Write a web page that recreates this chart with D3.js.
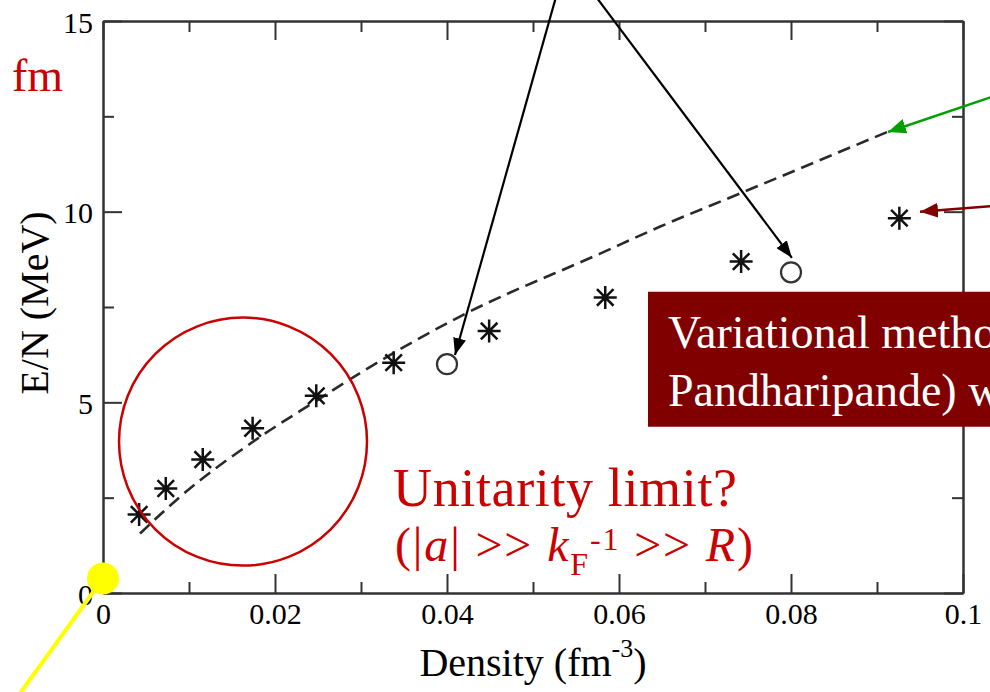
<!DOCTYPE html>
<html>
<head>
<meta charset="utf-8">
<script src="https://cdn.jsdelivr.net/npm/d3@7"></script>
<style>
    html, body { margin: 0; padding: 0; background: #fff; overflow: hidden; }
    svg { display: block; }
    svg text { font-family: "Liberation Serif", "Times New Roman", "DejaVu Serif", serif; }
</style>
</head>
<body>
<div id="chart"></div>
<script>
// data
var starDensity   = [0.0042, 0.0073, 0.0116, 0.0174, 0.0248, 0.0338, 0.0449, 0.0584, 0.0742, 0.0926];
var starEnergy    = [2.06, 2.74, 3.50, 4.32, 5.17, 6.04, 6.87, 7.75, 8.69, 9.83];
var circleDensity = [0.040, 0.080];
var circleEnergy  = [6.00, 8.41];
var curveDensity  = [0.0043, 0.0090, 0.0183, 0.0248, 0.0299, 0.0415, 0.0578, 0.0648, 0.0741, 0.0913];
var curveEnergy   = [1.56, 2.53, 4.10, 5.04, 5.77, 7.25, 8.90, 9.61, 10.48, 12.10];

var xMajor      = [0, 0.02, 0.04, 0.06, 0.08, 0.1];
var xMinor      = [0.01, 0.03, 0.05, 0.07, 0.09];
var xTickLabels = ["0", "0.02", "0.04", "0.06", "0.08", "0.1"];
var yMajor      = [0, 5, 10, 15];
var yMinor      = [2.5, 7.5, 12.5];
var yTickLabels = ["0", "5", "10", "15"];

(function () {
    var W = 990, H = 692;
    var margin = { top: 21, right: 27, bottom: 99, left: 103 };
    var iW = W - margin.left - margin.right;
    var iH = H - margin.top - margin.bottom;
    var SERIF = "'Liberation Serif', 'Times New Roman', serif";

    var root = d3.select("#chart").append("svg")
        .attr("width", W).attr("height", H);

    var defs = root.append("defs");
    function marker(id, color, len, wid) {
        defs.append("marker")
            .attr("id", id)
            .attr("viewBox", "0 0 " + len + " " + wid)
            .attr("refX", len).attr("refY", wid / 2)
            .attr("markerWidth", len).attr("markerHeight", wid)
            .attr("markerUnits", "userSpaceOnUse")
            .attr("orient", "auto")
            .append("path")
            .attr("d", "M0,0 L" + len + "," + (wid / 2) + " L0," + wid + " Z")
            .attr("fill", color);
    }
    marker("arr-black", "#000", 17, 13);
    marker("arr-green", "#00a000", 18, 15);
    marker("arr-red", "#800000", 18, 15);

    var svg = root.append("g")
        .attr("transform", "translate(" + margin.left + "," + margin.top + ")");

    var x = d3.scaleLinear().domain([0, 0.1]).range([0, iW]);
    var y = d3.scaleLinear().domain([0, 15]).range([iH, 0]);

    // frame: ticks point inward on all four sides
    function frameAxis(axisFn, scale, vals, size, tr) {
        var g = svg.append("g").attr("class", "axis");
        if (tr) g.attr("transform", tr);
        g.call(axisFn(scale).tickValues(vals).tickSizeInner(-size).tickSizeOuter(0).tickFormat(""));
        return g;
    }
    frameAxis(d3.axisBottom, x, xMinor, 11, "translate(0," + iH + ")");
    frameAxis(d3.axisTop, x, xMinor, 11, null);
    frameAxis(d3.axisLeft, y, yMinor, 11, null);
    frameAxis(d3.axisRight, y, yMinor, 11, "translate(" + iW + ",0)");
    frameAxis(d3.axisTop, x, xMajor, 19, null);
    frameAxis(d3.axisRight, y, yMajor, 19, "translate(" + iW + ",0)");

    svg.append("g").attr("class", "axis axis-x")
        .attr("transform", "translate(0," + iH + ")")
        .call(d3.axisBottom(x).tickValues(xMajor).tickSizeInner(-19).tickSizeOuter(0)
            .tickFormat(function (d, i) { return xTickLabels[i]; }));
    svg.append("g").attr("class", "axis axis-y")
        .call(d3.axisLeft(y).tickValues(yMajor).tickSizeInner(-19).tickSizeOuter(0)
            .tickFormat(function (d, i) { return yTickLabels[i]; }));

    svg.selectAll(".axis").attr("font-family", SERIF);
    svg.selectAll(".axis path, .axis line")
        .attr("stroke", "#333").attr("stroke-width", 2);
    svg.selectAll(".axis text")
        .attr("font-size", 30).attr("fill", "#000");
    svg.selectAll(".axis-x text").attr("y", 31).attr("dy", null);
    svg.selectAll(".axis-y text").attr("x", -10).attr("dy", 11);

    // axis titles
    var xt = svg.append("text")
        .attr("x", 533 - margin.left).attr("y", iH + 83)
        .attr("text-anchor", "middle")
        .attr("font-size", 40);
    xt.append("tspan").text("Density (fm");
    xt.append("tspan").attr("font-size", 26).attr("dy", -19).text("-3");
    xt.append("tspan").attr("dy", 19).text(")");

    svg.append("text")
        .attr("transform", "rotate(-90)")
        .attr("x", -(303 - margin.top)).attr("y", 48 - margin.left)
        .attr("text-anchor", "middle")
        .attr("font-size", 40)
        .text("E/N (MeV)");

    // dashed curve
    var curvePts = curveDensity.map(function (d, i) { return [d, curveEnergy[i]]; });
    svg.append("path")
        .datum(curvePts)
        .attr("fill", "none")
        .attr("stroke", "#2a2a2a")
        .attr("stroke-width", 2.6)
        .attr("stroke-dasharray", "13 7")
        .attr("d", d3.line()
            .x(function (d) { return x(d[0]); })
            .y(function (d) { return y(d[1]); })
            .curve(d3.curveMonotoneX));

    // asterisks
    var starType = {
        draw: function (ctx, size) {
            var r = Math.sqrt(size) / 2, d = r * 0.72;
            ctx.moveTo(-r, 0); ctx.lineTo(r, 0);
            ctx.moveTo(0, -r); ctx.lineTo(0, r);
            ctx.moveTo(-d, -d); ctx.lineTo(d, d);
            ctx.moveTo(-d, d); ctx.lineTo(d, -d);
        }
    };
    svg.selectAll(".star")
        .data(starDensity.map(function (d, i) { return [d, starEnergy[i]]; }))
        .enter().append("path")
        .attr("class", "star")
        .attr("transform", function (d) { return "translate(" + x(d[0]) + "," + y(d[1]) + ")"; })
        .attr("d", d3.symbol().type(starType).size(23 * 23))
        .attr("fill", "none").attr("stroke", "#111").attr("stroke-width", 2.5);

    svg.selectAll(".open")
        .data(circleDensity.map(function (d, i) { return [d, circleEnergy[i]]; }))
        .enter().append("circle")
        .attr("class", "open")
        .attr("cx", function (d) { return x(d[0]); })
        .attr("cy", function (d) { return y(d[1]); })
        .attr("r", 10)
        .attr("fill", "none").attr("stroke", "#333").attr("stroke-width", 2.2);

    // red circle around low density points
    svg.append("circle")
        .attr("cx", x(0.01628)).attr("cy", y(3.97)).attr("r", 124)
        .attr("fill", "none").attr("stroke", "#cc0000").attr("stroke-width", 2.5);

    var red = "#cc0000";
    svg.append("text")
        .attr("x", 393 - margin.left).attr("y", 506 - margin.top)
        .attr("font-size", 54).attr("fill", red)
        .attr("textLength", 344).attr("lengthAdjust", "spacing")
        .text("Unitarity limit?");

    var t2 = svg.append("text")
        .attr("x", 395 - margin.left).attr("y", 561 - margin.top)
        .attr("font-size", 48).attr("fill", red)
        .attr("textLength", 358).attr("lengthAdjust", "spacing");
    t2.append("tspan").text("(|");
    t2.append("tspan").attr("font-style", "italic").text("a");
    t2.append("tspan").text("| >> ");
    t2.append("tspan").attr("font-style", "italic").text("k");
    t2.append("tspan").attr("font-size", 32).attr("dy", 14).text("F");
    t2.append("tspan").attr("font-size", 32).attr("dy", -25).text("-1");
    t2.append("tspan").attr("dy", 11).text(" >> ");
    t2.append("tspan").attr("font-style", "italic").text("R");
    t2.append("tspan").text(")");

    root.append("text")
        .attr("x", 12).attr("y", 91)
        .attr("font-size", 46).attr("fill", red)
        .text("fm");

    // arrows
    var arrows = [
        { from: [0.05395, 16.65], to: [0.04093, 6.24], color: "#000", w: 2.2, m: "arr-black" },
        { from: [0.05395, 16.65], to: [0.0801, 8.79], color: "#000", w: 2.2, m: "arr-black" },
        { from: [0.10547, 13.17], to: [0.09128, 12.09], color: "#00a000", w: 2.5, m: "arr-green" },
        { from: [0.10547, 10.18], to: [0.0950, 10.00], color: "#800000", w: 2.5, m: "arr-red" }
    ];
    svg.selectAll(".arrow").data(arrows).enter().append("line")
        .attr("class", "arrow")
        .attr("x1", function (d) { return x(d.from[0]); })
        .attr("y1", function (d) { return y(d.from[1]); })
        .attr("x2", function (d) { return x(d.to[0]); })
        .attr("y2", function (d) { return y(d.to[1]); })
        .attr("stroke", function (d) { return d.color; })
        .attr("stroke-width", function (d) { return d.w; })
        .attr("marker-end", function (d) { return "url(#" + d.m + ")"; });

    // maroon label box (runs off the right edge, as in the original slide)
    var bx = x(0.06337), by = y(7.90);
    svg.append("rect")
        .attr("x", bx).attr("y", by)
        .attr("width", W - margin.left - bx).attr("height", y(4.36) - by)
        .attr("fill", "#800000");
    svg.append("text")
        .attr("x", bx + 20).attr("y", 348 - margin.top)
        .attr("font-size", 46).attr("fill", "#fff")
        .text("Variational metho");
    svg.append("text")
        .attr("x", bx + 20).attr("y", 406 - margin.top)
        .attr("font-size", 46).attr("fill", "#fff")
        .text("Pandharipande) w");

    // yellow pointer at the origin
    svg.append("line")
        .attr("x1", x(0)).attr("y1", y(0.38))
        .attr("x2", x(-0.0108)).attr("y2", y(-2.99))
        .attr("stroke", "#ffff00").attr("stroke-width", 4);
    svg.append("circle")
        .attr("cx", x(0)).attr("cy", y(0.38)).attr("r", 16)
        .attr("fill", "#ffff00");
}());
</script>
</body>
</html>
